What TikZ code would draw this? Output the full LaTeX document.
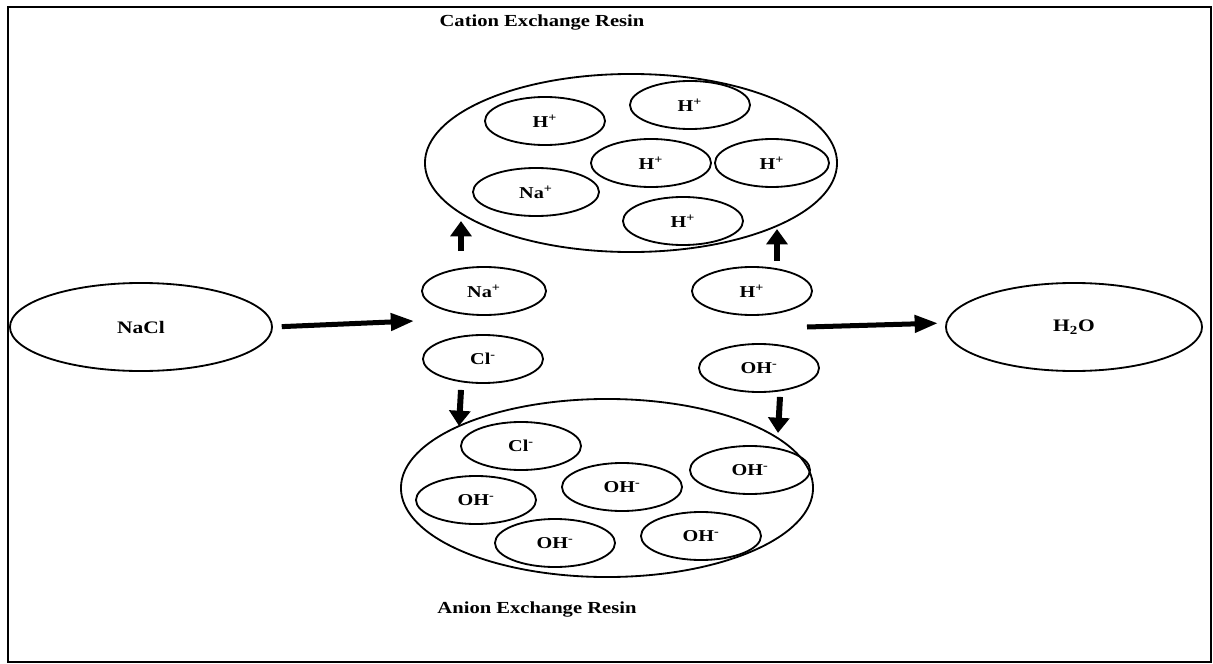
\documentclass[tikz,border=0pt]{standalone}
\usepackage{fontspec}
\setmainfont{Liberation Serif}[FakeStretch=1.22]
\usepackage{tikz}
\usetikzlibrary{calc}
\usetikzlibrary{arrows.meta}
\usetikzlibrary{shapes.geometric}
\begin{document}
\begin{tikzpicture}[x=0.025cm,y=-0.025cm,
	ion/.style={draw,ellipse,line width=1.3pt,inner sep=0pt,minimum width=3cm,minimum height=1.2cm,font=\fontsize{11.8}{13}\selectfont\bfseries},
	resin/.style={draw,ellipse,line width=1.3pt,minimum width=10.3cm,minimum height=4.45cm},
	compound/.style={draw,ellipse,line width=1.3pt,inner sep=0pt,minimum height=2.2cm,font=\fontsize{12.5}{14}\selectfont\bfseries},
	title/.style={font=\fontsize{12}{14}\selectfont\bfseries},
	blockarrow/.style={line width=0.15cm,-{Triangle[length=0.38cm,width=0.52cm]}},
	flowarrow/.style={line width=0.125cm,-{Triangle[length=0.58cm,width=0.42cm]}}]
	\useasboundingbox (0,0) rectangle (1213,664);
	\draw[line width=1.4pt] (8,7) rectangle (1211,662);
	% resins
	\node[resin] (cation) at (631,163) {};
	\node[resin] (anion) at (607,488) {};
	\node[title] (cationlbl) at (542,23) {Cation Exchange Resin};
	\node[title] (anionlbl) at (537,610) {Anion Exchange Resin};
	% inside the cation resin
	\node[ion] (c1) at (545,121) {H\textsuperscript{+}};
	\node[ion] (c2) at (690,105) {H\textsuperscript{+}};
	\node[ion] (c3) at (651,163) {H\textsuperscript{+}};
	\node[ion,minimum width=2.85cm] (c4) at (772,163) {H\textsuperscript{+}};
	\node[ion,minimum width=3.15cm] (c5) at (536,192) {Na\textsuperscript{+}};
	\node[ion] (c6) at (683,221) {H\textsuperscript{+}};
	% inside the anion resin
	\node[ion] (a1) at (521,446) {Cl\textsuperscript{-}};
	\node[ion] (a2) at (476,500) {OH\textsuperscript{-}};
	\node[ion] (a3) at (622,487) {OH\textsuperscript{-}};
	\node[ion] (a4) at (750,470) {OH\textsuperscript{-}};
	\node[ion] (a5) at (555,543) {OH\textsuperscript{-}};
	\node[ion] (a6) at (701,536) {OH\textsuperscript{-}};
	% free ions
	\node[ion,minimum width=3.1cm] (nap) at (484,291) {Na\textsuperscript{+}};
	\node[ion] (clm) at (483,359) {Cl\textsuperscript{-}};
	\node[ion] (hp) at (752,291) {H\textsuperscript{+}};
	\node[ion] (ohm) at (759,368) {OH\textsuperscript{-}};
	% feed and product
	\node[compound,minimum width=6.55cm] (nacl) at (141,327) {NaCl};
	\node[compound,minimum width=6.4cm] (water) at (1074,327) {H\textsubscript{2}O};
	\coordinate (split) at (414,321);
	\coordinate (merge) at (807,327);
	\draw[flowarrow,shorten <=0.22cm] (nacl.east) -- (split);
	\draw[flowarrow,shorten >=0.18cm] (merge) -- ($(water.west)+(0,-4)$);
	\draw[blockarrow] ($(nap.north)+(-23,-15)$) -- ($(nap.north)+(-23,-45)$);
	\draw[blockarrow] ($(hp.north)+(25,-5)$) -- ($(hp.north)+(25,-37)$);
	\draw[blockarrow] ($(clm.south)+(-22,6)$) -- ($(clm.south)+(-24,42)$);
	\draw[blockarrow] ($(ohm.south)+(21,4)$) -- ($(ohm.south)+(19,40)$);
\end{tikzpicture}
\end{document}
